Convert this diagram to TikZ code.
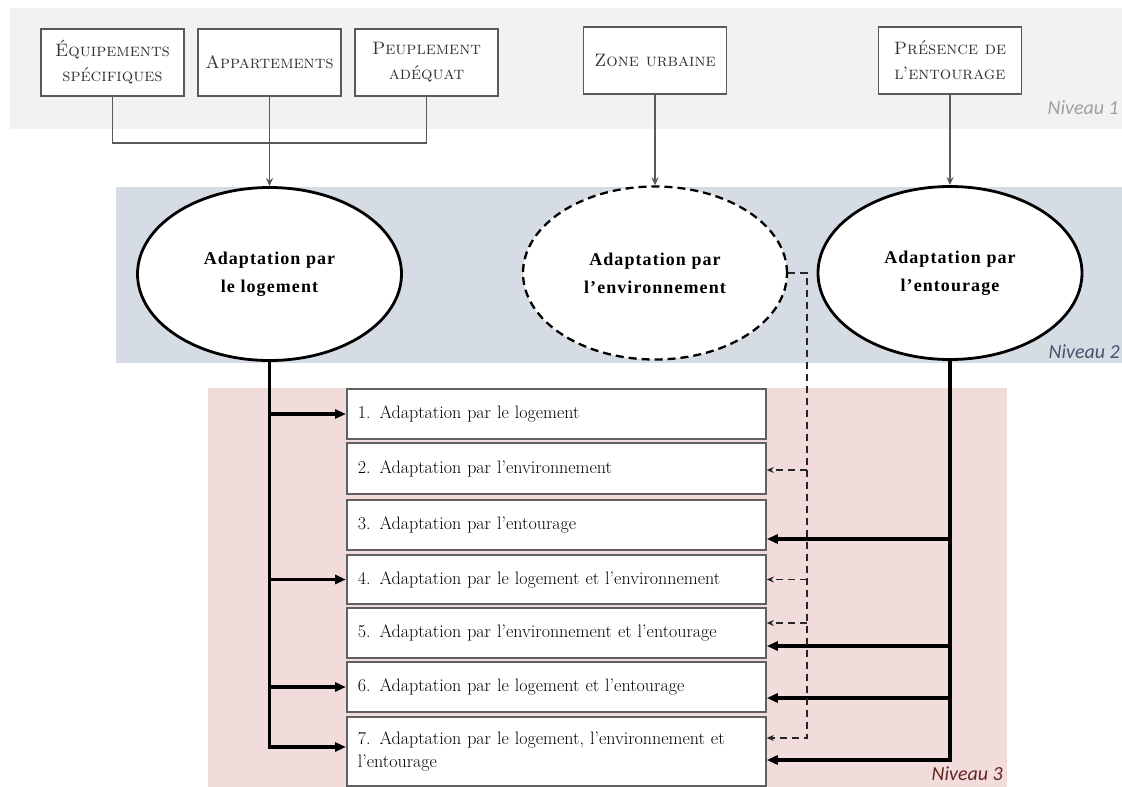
\documentclass[tikz,border=0pt]{standalone}
\usepackage{fontspec}
\newfontfamily\ellfont[LetterSpace=6]{Liberation Serif}
\newfontfamily\nivfont{Carlito}
\usetikzlibrary{shapes.geometric,arrows.meta}
\definecolor{bandA}{HTML}{F2F2F2}
\definecolor{bandB}{HTML}{D6DCE4}
\definecolor{bandC}{HTML}{F2DCDB}
\definecolor{boxline}{HTML}{595959}
\definecolor{resline}{HTML}{606060}
\definecolor{txtgray}{HTML}{333333}
\definecolor{nivA}{HTML}{A0A0A0}
\definecolor{nivB}{HTML}{44546A}
\definecolor{nivC}{HTML}{632523}
\begin{document}
\begin{tikzpicture}[x=1pt,y=-1pt,
  topbox/.style={draw=boxline, line width=1.8pt, fill=white, minimum width=143pt,
    minimum height=67pt, align=center, inner sep=2pt, text=txtgray,
    font=\fontsize{18}{25}\selectfont\scshape},
  ell/.style={ellipse, draw=black, line width=2.8pt, fill=white, minimum width=264pt,
    minimum height=173pt, inner sep=0pt, align=center,
    font=\ellfont\bfseries\fontsize{18}{28}\selectfont},
  dashell/.style={ell, dash pattern=on 8pt off 5pt, line width=2.3pt},
  resbox/.style={draw=resline, line width=1.8pt, fill=white, anchor=west,
    text width=397pt, inner xsep=11pt, inner ysep=0pt, align=left,
    font=\fontsize{18}{23}\selectfont},
  thinline/.style={draw=boxline, line width=1.6pt},
  thinarrow/.style={thinline, -{Stealth[length=8pt,width=7pt]}},
  thickline/.style={draw=black, line width=3.2pt, -{Triangle[length=11pt,width=9pt]}},
  dashline/.style={draw=black!85, line width=1.9pt, dash pattern=on 7pt off 5pt,
    -{Stealth[length=7pt,width=6pt]}},
  nivlabel/.style={anchor=east, inner sep=0pt, font=\nivfont\itshape\fontsize{20}{22}\selectfont}
]
\useasboundingbox (0,0) rectangle (1122,787);
% bands
\fill[bandA] (10,8) rectangle (1122,129);
\fill[bandB] (116,187) rectangle (1122,363);
\fill[bandC] (208,388) rectangle (1007,787);

% level 1 boxes
\node[topbox] (t1) at (112.5,62.5) {Équipements\\spécifiques};
\node[topbox] (t2) at (269.5,62.5) {Appartements};
\node[topbox] (t3) at (426.5,62.5) {Peuplement\\adéquat};
\node[topbox] (t4) at (655,60.5) {Zone urbaine};
\node[topbox] (t5) at (950,60.5) {Présence de\\l’entourage};

% level 2 ellipses
\node[ell] (e1) at (269.5,274) {Adaptation par\\le logement};
\node[dashell] (e2) at (655,273) {Adaptation par\\l’environnement};
\node[ell] (e3) at (950,273) {Adaptation par\\l’entourage};

% level 3 boxes
\node[resbox, minimum height=50pt] (b1) at (346,414) {1. Adaptation par le logement};
\node[resbox, minimum height=51pt] (b2) at (346,468.5) {2. Adaptation par l’environnement};
\node[resbox, minimum height=50pt] (b3) at (346,525) {3. Adaptation par l’entourage};
\node[resbox, minimum height=49pt] (b4) at (346,579.5) {4. Adaptation par le logement et l’environnement};
\node[resbox, minimum height=50pt] (b5) at (346,633) {5. Adaptation par l’environnement et l’entourage};
\node[resbox, minimum height=50pt] (b6) at (346,687) {6. Adaptation par le logement et l’entourage};
\node[resbox, minimum height=69pt] (b7) at (346,751.5) {7. Adaptation par le logement, l’environnement et\\l’entourage};

% level labels
\node[nivlabel, text=nivA] (n1) at (1119,108) {Niveau 1};
\node[nivlabel, text=nivB] (n2) at (1120,352) {Niveau 2};
\node[nivlabel, text=nivC] (n3) at (1003,774) {Niveau 3};

% level 1 -> level 2
\draw[thinline] (t1.south) -- ++(0,46) -| (t3.south);
\draw[thinarrow] (t2.south) -- (e1.north);
\draw[thinarrow] (t4.south) -- (e2.north);
\draw[thinarrow] (t5.south) -- (e3.north);

% left trunk (logement)
\coordinate (l7) at ([yshift=4.5pt]b7.west);
\draw[thickline] (e1.south) |- (l7);
\draw[thickline] (e1.south |- b1.west) -- (b1.west);
\draw[thickline] (e1.south |- b4.west) -- (b4.west);
\draw[thickline] (e1.south |- b6.west) -- (b6.west);

% right trunk (entourage)
\coordinate (r3) at ([yshift=-14pt]b3.east);
\coordinate (r5) at ([yshift=-13pt]b5.east);
\coordinate (r6) at ([yshift=-11pt]b6.east);
\coordinate (r7) at ([yshift=-8.5pt]b7.east);
\draw[thickline] (e3.south) |- (r7);
\draw[thickline] (e3.south |- r3) -- (r3);
\draw[thickline] (e3.south |- r5) -- (r5);
\draw[thickline] (e3.south |- r6) -- (r6);

% dashed trunk (environnement)
\coordinate (dv) at (807,273);
\coordinate (d2) at ([yshift=-1.5pt]b2.east);
\coordinate (d4) at (b4.east);
\coordinate (d5) at ([yshift=10pt]b5.east);
\coordinate (d7) at ([yshift=13.5pt]b7.east);
\draw[dashline] (e2.east) -- (dv) |- (d7);
\draw[dashline] (dv |- d2) -- (d2);
\draw[dashline] (dv |- d4) -- (d4);
\draw[dashline] (dv |- d5) -- (d5);
\end{tikzpicture}
\end{document}
